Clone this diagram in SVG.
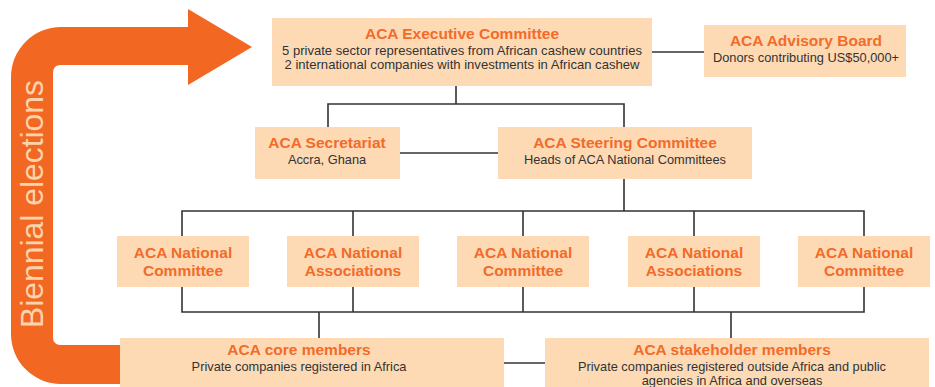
<svg xmlns="http://www.w3.org/2000/svg" width="935" height="387" viewBox="0 0 935 387">
  <style>
    .box { fill: #FDDAB3; }
    .title { font-family: "Liberation Sans", Arial, sans-serif; font-weight: bold; font-size: 15.5px; fill: #F26B2B; text-anchor: middle; }
    .sub { font-family: "Liberation Sans", Arial, sans-serif; font-size: 12.8px; fill: #333333; text-anchor: middle; }
    .sub-tight { font-size: 12.2px; }
    .conn { fill: none; stroke: #333333; stroke-width: 1.6; }
  </style>
  <rect width="935" height="387" fill="#FFFFFF"/>

  <!-- election cycle arrow -->
  <g id="election-arrow">
    <path d="M120,384 L61,384 A50,50 0 0 1 11,334 L11,77 A50,50 0 0 1 61,27 L188,27 L188,9 L252,47 L188,85 L188,65 L60,65 A7,7 0 0 0 53,72 L53,338 A7,7 0 0 0 60,345 L120,345 Z" fill="#F26722"/>
    <text transform="translate(43,328) rotate(-90)" font-family="Liberation Sans, Arial, sans-serif" font-size="31" fill="#FDD3AC" textLength="248" lengthAdjust="spacingAndGlyphs">Biennial elections</text>
  </g>

  <!-- connectors -->
  <g id="connectors">
    <path class="conn" d="M652,52 H704"/>
    <path class="conn" d="M456,86 V104 M328,127 V104 H624 V127"/>
    <path class="conn" d="M400,153 H498"/>
    <path class="conn" d="M624,179 V211 M182,236 V211 H864 V236 M353,211 V236 M523,211 V236 M694,211 V236"/>
    <path class="conn" d="M182,287 V312 H864 V287 M353,287 V312 M523,287 V312 M694,287 V312"/>
    <path class="conn" d="M319,312 V338 M731,312 V338"/>
    <path class="conn" d="M504,363 H545"/>
  </g>

  <g id="executive-committee">
    <rect class="box" x="272" y="18" width="380" height="68"/>
    <text class="title" x="462" y="39">ACA Executive Committee</text>
    <text class="sub sub-tight" x="462" y="54.5" textLength="360" lengthAdjust="spacingAndGlyphs">5 private sector representatives from African cashew countries</text>
    <text class="sub sub-tight" x="462" y="68.5" textLength="355" lengthAdjust="spacingAndGlyphs">2 international companies with investments in African cashew</text>
  </g>

  <g id="advisory-board">
    <rect class="box" x="704" y="25" width="202" height="52"/>
    <text class="title" x="806" y="46">ACA Advisory Board</text>
    <text class="sub" x="806" y="62">Donors contributing US$50,000+</text>
  </g>

  <g id="secretariat">
    <rect class="box" x="255" y="127" width="145" height="52"/>
    <text class="title" x="327" y="148">ACA Secretariat</text>
    <text class="sub" x="327" y="164">Accra, Ghana</text>
  </g>

  <g id="steering-committee">
    <rect class="box" x="498" y="127" width="254" height="52"/>
    <text class="title" x="625" y="148">ACA Steering Committee</text>
    <text class="sub" x="625" y="164">Heads of ACA National Committees</text>
  </g>

  <g id="national-committee-1">
    <rect class="box" x="117" y="236" width="132" height="51"/>
    <text class="title" x="183" y="258">ACA National</text>
    <text class="title" x="183" y="276">Committee</text>
  </g>

  <g id="national-associations-1">
    <rect class="box" x="287" y="236" width="132" height="51"/>
    <text class="title" x="353" y="258">ACA National</text>
    <text class="title" x="353" y="276">Associations</text>
  </g>

  <g id="national-committee-2">
    <rect class="box" x="457" y="236" width="132" height="51"/>
    <text class="title" x="523" y="258">ACA National</text>
    <text class="title" x="523" y="276">Committee</text>
  </g>

  <g id="national-associations-2">
    <rect class="box" x="628" y="236" width="132" height="51"/>
    <text class="title" x="694" y="258">ACA National</text>
    <text class="title" x="694" y="276">Associations</text>
  </g>

  <g id="national-committee-3">
    <rect class="box" x="798" y="236" width="132" height="51"/>
    <text class="title" x="864" y="258">ACA National</text>
    <text class="title" x="864" y="276">Committee</text>
  </g>

  <g id="core-members">
    <rect class="box" x="120" y="338" width="384" height="49"/>
    <text class="title" x="299" y="355">ACA core members</text>
    <text class="sub" x="299" y="371">Private companies registered in Africa</text>
  </g>

  <g id="stakeholder-members">
    <rect class="box" x="545" y="338" width="384" height="49"/>
    <text class="title" x="732" y="355">ACA stakeholder members</text>
    <text class="sub" x="732" y="371">Private companies registered outside Africa and public</text>
    <text class="sub" x="732" y="385">agencies in Africa and overseas</text>
  </g>
</svg>
